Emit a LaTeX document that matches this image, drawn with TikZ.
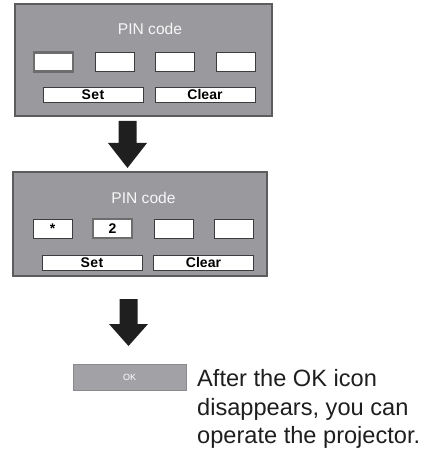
\documentclass[tikz,border=0pt]{standalone}
\usepackage{fontspec}
\setmainfont{Liberation Sans}
\usetikzlibrary{positioning}
\definecolor{panelgray}{RGB}{153,153,158}
\definecolor{paneledge}{RGB}{92,92,94}
\definecolor{boxedge}{RGB}{60,60,62}
\definecolor{okgray}{RGB}{162,162,166}
\definecolor{inktext}{RGB}{30,30,30}
\tikzstyle{panel} = [rectangle, draw=paneledge, fill=panelgray, line width=1.2pt, inner sep=0pt]
\tikzstyle{codebox} = [rectangle, draw=boxedge, fill=white, line width=0.9pt, minimum width=39pt, minimum height=19pt, inner sep=0pt, font=\fontsize{14}{14}\selectfont\bfseries]
\tikzstyle{cursor} = [codebox, draw=boxedge!75, line width=2.2pt]
\tikzstyle{button} = [codebox, minimum width=100pt, minimum height=15pt]
\tikzstyle{title} = [text=white!94!gray, inner sep=0pt, anchor=base, font=\fontsize{15.6}{16}\selectfont]
% big black arrow: centre x, top, start of head, tip
\newcommand{\bigarrow}[4]{%
	\fill[black!88] (#1-9,#2) -- (#1+9,#2) -- (#1+9,#3) -- (#1+19.5,#3) -- (#1,#4) -- (#1-19.5,#3) -- (#1-9,#3) -- cycle;}

\begin{document}
\begin{tikzpicture}[x=1pt,y=-1pt]%
	\useasboundingbox (0,0) rectangle (427,449);%
	% first screen
	\node [panel, minimum width=257pt, minimum height=112pt] (pinA) at (143.5,60) {};%
	\node [title] (titleA) at (150,35) {PIN code};%
	\node [cursor] (dA1) at (53.5,62) {};%
	\node [codebox] (dA2) at (115,62) {};%
	\node [codebox] (dA3) at (174.5,62) {};%
	\node [codebox] (dA4) at (235.5,62) {};%
	\node [button] (setA) at (93,94.5) {S\kern.5pt e\kern.5pt t};%
	\node [button] (clearA) at (205,94.5) {Clear};%
	\bigarrow{127.5}{121}{143}{168}%
	% second screen
	\node [panel, minimum width=254pt, minimum height=104pt] (pinB) at (140,224) {};%
	\node [title] (titleB) at (143.5,203) {PIN code};%
	\node [codebox] (dB1) at (52.5,228.5) {\raisebox{-3pt}{*}};%
	\node [cursor] (dB2) at (112.5,228.5) {2};%
	\node [codebox] (dB3) at (173.5,228.5) {};%
	\node [codebox] (dB4) at (234,228.5) {};%
	\node [button] (setB) at (92,262.5) {S\kern.5pt e\kern.5pt t};%
	\node [button] (clearB) at (203.5,262.5) {Clear};%
	\bigarrow{128.5}{299}{324}{346}%
	% OK icon and message
	\node [rectangle, fill=okgray, draw=okgray!85!black, line width=0.6pt, minimum width=113pt, minimum height=26pt, inner sep=0pt,%
		text=white, font=\fontsize{9}{9}\selectfont] (okbar) at (129.5,377) {OK};%
	\node [anchor=base west, align=left, inner sep=0pt, text=inktext,%
		font=\fontsize{23.6}{28.5}\selectfont] (msg) at (197,443.5) {After the OK icon\\ disappears, you can\\ operate the projector.};%
\end{tikzpicture}
\end{document}
